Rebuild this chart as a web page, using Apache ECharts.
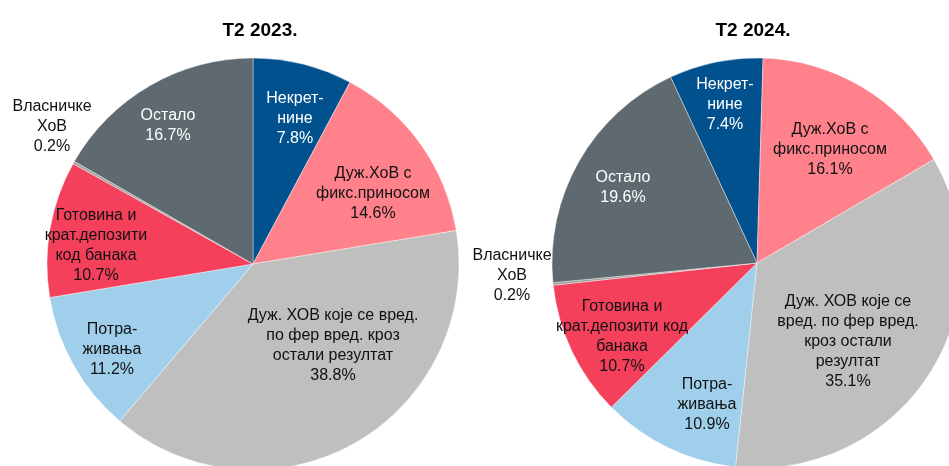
<!DOCTYPE html>
<html>
<head>
<meta charset="utf-8">
<script src="https://cdn.jsdelivr.net/npm/echarts@6/dist/echarts.min.js"></script>
<style>
  html, body { margin: 0; padding: 0; background: #fff; }
  #chart { width: 949px; height: 466px; }
</style>
</head>
<body>
<div id="chart"></div>
<script>
// категорије (редослед у смеру казаљке, од врха)
const categories = [
  'Некрет-\nнине',
  'Дуж.ХоВ с\nфикс.приносом',
  'Дуж. ХОВ које се вред.\nпо фер вред. кроз\nостали резултат',
  'Потра-\nживања',
  'Готовина и\nкрат.депозити\nкод банака',
  'Власничке\nХоВ',
  'Остало'
]
// подписи за 2024 су другачије преломљени
const categories2024 = [
  'Некрет-\nнине',
  'Дуж.ХоВ с\nфикс.приносом',
  'Дуж. ХОВ које се\nвред. по фер вред.\nкроз остали\nрезултат',
  'Потра-\nживања',
  'Готовина и\nкрат.депозити код\nбанака',
  'Власничке\nХоВ',
  'Остало'
]
const values2023 = [7.8, 14.6, 38.8, 11.2, 10.7, 0.2, 16.7]
const values2024 = [7.4, 16.1, 35.1, 10.9, 10.7, 0.2, 19.6]
const titles = ['Т2 2023.', 'Т2 2024.']

const colors = ['#02518f', '#ff818b', '#bfbfbf', '#a0cfeb', '#f5405c', '#9e9e9e', '#5f6970']
const labelColors = ['#fff', '#111', '#111', '#111', '#111', '#111', '#fff']

// положаји подписа (центар текста)
const labelPos2023 = [[295, 119], [373, 194], [333, 346], [112, 350], [96, 246], [52, 127], [168, 126]]
const labelPos2024 = [[725, 105], [830, 150], [848, 342], [707, 405], [622, 337], [512, 276], [623, 188]]

const chart = echarts.init(document.getElementById('chart'))

const makeSeries = (vals, names, center, radius, startAngle, pos) => ({
  type: 'pie',
  center: center,
  radius: radius,
  startAngle: startAngle,
  clockwise: true,
  silent: true,
  animation: false,
  itemStyle: { borderColor: '#fff', borderWidth: 0.4 },
  label: {
    show: true,
    position: 'inside',
    fontFamily: 'Liberation Sans, Arial, sans-serif',
    fontSize: 16,
    lineHeight: 20,
    align: 'center',
    formatter: p => p.name + '\n' + p.value.toFixed(1) + '%'
  },
  labelLine: { show: false },
  labelLayout: p => ({
    x: pos[p.dataIndex][0],
    y: pos[p.dataIndex][1],
    align: 'center',
    verticalAlign: 'middle'
  }),
  data: vals.map((v, i) => ({
    value: v,
    name: names[i],
    itemStyle: { color: colors[i] },
    label: { color: labelColors[i] }
  }))
})

const option = {
  title: [
    { text: titles[0], left: 255, top: 16, textAlign: 'center',
      textStyle: { fontFamily: 'Liberation Sans, Arial, sans-serif', fontSize: 19, fontWeight: 'bold', color: '#000' } },
    { text: titles[1], left: 748, top: 16, textAlign: 'center',
      textStyle: { fontFamily: 'Liberation Sans, Arial, sans-serif', fontSize: 19, fontWeight: 'bold', color: '#000' } }
  ],
  series: [
    makeSeries(values2023, categories, [253, 264], 206, 90, labelPos2023),
    makeSeries(values2024, categories2024, [757, 263], 205, 90 + 7.4 * 3.6 - 1.7, labelPos2024)
  ]
}

chart.setOption(option)
</script>
</body>
</html>
